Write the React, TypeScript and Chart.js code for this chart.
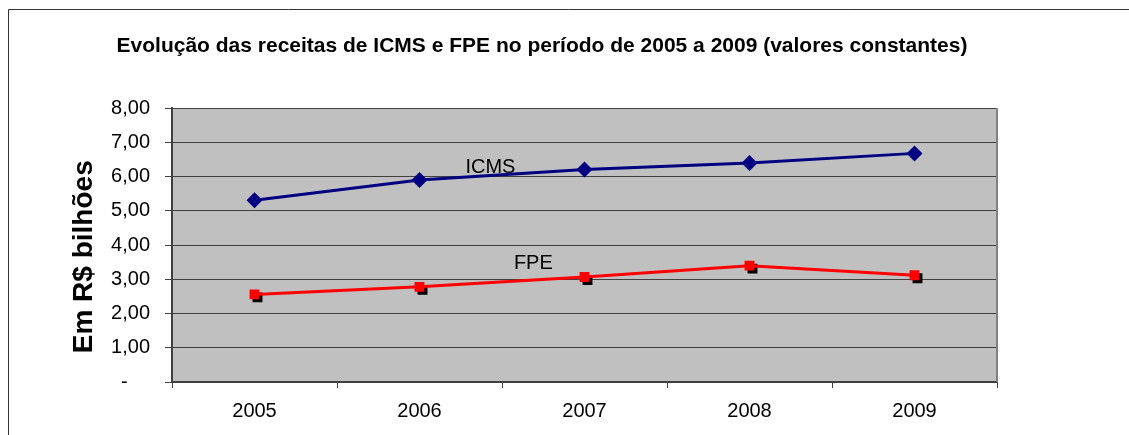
import React, { useEffect, useRef } from "react";
import { Chart, registerables } from "chart.js";

Chart.register(...registerables);

const years = ["2005", "2006", "2007", "2008", "2009"];
const icms = [5.31, 5.9, 6.21, 6.4, 6.68];
const fpe = [2.56, 2.78, 3.07, 3.4, 3.12];
const titleText = "Evolução das receitas de ICMS e FPE no período de 2005 a 2009 (valores constantes)";
const yTitle = "Em R$ bilhões   ";
// series text labels anchored in data space: [category index, value]
const icmsLabelAt = [1.43, 6.1];
const fpeLabelAt = [1.69, 3.3];

const FONT = "'Liberation Sans', Arial, sans-serif";

export default function App() {
  const ref = useRef<HTMLCanvasElement>(null);
  useEffect(() => {
    const canvas = ref.current!;
    const decor = {
      id: "decor",
      beforeDraw(chart: any) {
        const { ctx, chartArea: a } = chart;
        ctx.save();
        ctx.fillStyle = "#ffffff";
        ctx.fillRect(0, 0, chart.width, chart.height);
        ctx.strokeStyle = "#333333";
        ctx.lineWidth = 1;
        ctx.beginPath();
        ctx.moveTo(8.5, chart.height);
        ctx.lineTo(8.5, 9.5);
        ctx.lineTo(chart.width, 9.5);
        ctx.stroke();
        ctx.fillStyle = "#C0C0C0";
        ctx.fillRect(a.left, a.top, a.right - a.left, a.bottom - a.top);
        ctx.restore();
      },
      beforeDatasetsDraw(chart: any) {
        const { ctx, chartArea: a } = chart;
        ctx.save();
        ctx.strokeStyle = "#808080";
        ctx.lineWidth = 2;
        ctx.beginPath();
        ctx.moveTo(a.right, a.top);
        ctx.lineTo(a.right, a.bottom);
        ctx.stroke();
        ctx.restore();
      },
      beforeDatasetDraw(chart: any, args: any) {
        if (args.index === 2) {
          chart.ctx.save();
          chart.ctx.translate(3, 3);
        }
      },
      afterDatasetDraw(chart: any, args: any) {
        if (args.index === 2) chart.ctx.restore();
      },
      afterDatasetsDraw(chart: any) {
        const { ctx } = chart;
        const x = chart.scales.x;
        const y = chart.scales.y;
        ctx.save();
        ctx.fillStyle = "#000000";
        ctx.font = `20px ${FONT}`;
        ctx.textAlign = "center";
        ctx.textBaseline = "alphabetic";
        ctx.fillText("ICMS", x.getPixelForValue(icmsLabelAt[0]), y.getPixelForValue(icmsLabelAt[1]));
        ctx.fillText("FPE", x.getPixelForValue(fpeLabelAt[0]), y.getPixelForValue(fpeLabelAt[1]));
        ctx.restore();
      },
    };
    const chart = new Chart(canvas, {
      type: "line",
      data: {
        labels: years,
        datasets: [
          {
            label: "ICMS",
            data: icms,
            borderColor: "#000080",
            backgroundColor: "#000080",
            borderWidth: 3,
            pointStyle: "rectRot",
            pointRadius: 8,
            pointBorderWidth: 0,
            tension: 0,
          },
          {
            label: "FPE",
            data: fpe,
            borderColor: "#FF0000",
            backgroundColor: "#FF0000",
            borderWidth: 3,
            pointStyle: "rect",
            pointRadius: 7,
            pointBorderWidth: 0,
            tension: 0,
          },
          {
            label: "FPE sombra",
            data: fpe,
            showLine: false,
            borderColor: "#000000",
            backgroundColor: "#000000",
            pointStyle: "rect",
            pointRadius: 7,
            pointBorderWidth: 0,
          },
        ],
      },
      options: {
        responsive: false,
        animation: false,
        events: [],
        layout: { padding: { left: 87, right: 132, top: 0, bottom: 1 } },
        plugins: {
          legend: { display: false },
          tooltip: { enabled: false },
          title: {
            display: true,
            text: titleText,
            color: "#000000",
            font: { family: FONT, size: 21, weight: "bold" },
            padding: { top: 34, bottom: 49 },
          },
        },
        scales: {
          x: {
            offset: true,
            grid: {
              offset: true,
              drawOnChartArea: false,
              drawTicks: true,
              tickLength: 6,
              color: "#404040",
            },
            border: { display: true, color: "#404040", width: 2 },
            ticks: { color: "#000000", font: { family: FONT, size: 20 }, padding: 11 },
          },
          y: {
            min: 0,
            max: 8,
            afterFit(scale: any) {
              scale.width = 85;
            },
            ticks: {
              stepSize: 1,
              color: "#000000",
              font: { family: FONT, size: 20 },
              padding: 15,
              callback: (v: any) => (Number(v) === 0 ? "-    " : Number(v).toFixed(2).replace(".", ",")),
            },
            grid: { color: "#404040", lineWidth: 1, tickLength: 7 },
            border: { display: true, color: "#404040", width: 2 },
            title: {
              display: true,
              text: yTitle,
              color: "#000000",
              font: { family: FONT, size: 28, weight: "bold" },
              padding: { top: -20, bottom: 0 },
            },
          },
        },
      },
      plugins: [decor],
    });
    return () => chart.destroy();
  }, []);
  return (
    <div style={{ position: "fixed", left: 0, top: 0, width: 1129, height: 435 }}>
      <canvas ref={ref} width={1129} height={435} style={{ display: "block" }} />
    </div>
  );
}
